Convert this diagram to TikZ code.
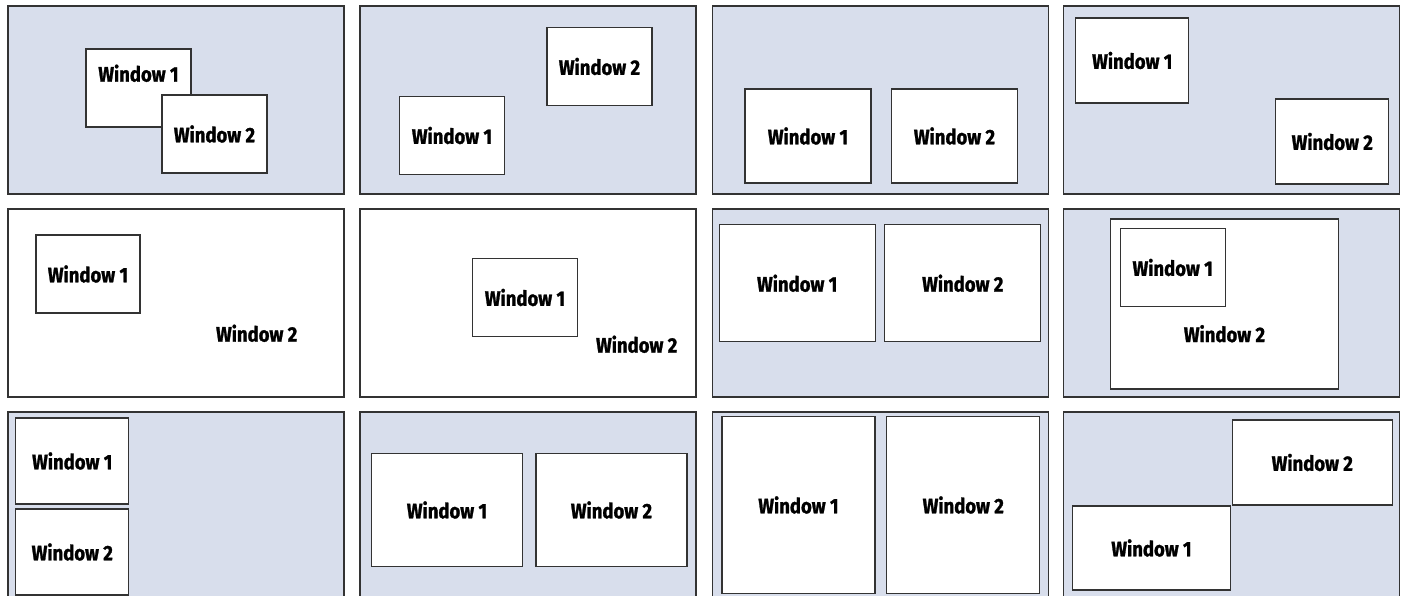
\documentclass[tikz,border=0pt]{standalone}
\usepackage{fontspec}
\setmainfont{Fira Sans}[FakeStretch=0.88, BoldFeatures={FakeBold=1.2}]
\usepackage{xcolor}
\usepackage{tikz}
\usetikzlibrary{positioning}

\definecolor{deskblue}{RGB}{216,222,236}

\begin{document}
\begin{tikzpicture}[x=1pt,y=-1pt,
    panel/.style={draw=black!80, line width=1.2pt, fill=deskblue, minimum width=336pt, minimum height=188pt, inner sep=0pt},
    screen/.style={panel, fill=white},
    win/.style={draw=black!80, line width=1.2pt, fill=white, inner sep=0pt, font=\bfseries\fontsize{21}{21}\selectfont},
    lbl/.style={inner sep=0pt, font=\bfseries\fontsize{21}{21}\selectfont}]
        \clip (0,0) rectangle (1403,596);

        % row 1
        \node[panel] (p1) at (176,100) {};
        \node[win, minimum width=105pt, minimum height=78pt] (p1w1) at (138.5,88) {};
        \node[lbl, below=16pt of p1w1.north] (p1l1) {Window 1};
        \node[win, minimum width=105pt, minimum height=78pt] (p1w2) at (214.5,134) {Window 2};

        \node[panel] (p2) at (528,100) {};
        \node[win, minimum width=105pt, minimum height=78pt] (p2w1) at (452,135.5) {Window 1};
        \node[win, minimum width=105pt, minimum height=78pt] (p2w2) at (599.5,66.5) {Window 2};

        \node[panel] (p3) at (880.5,100) {};
        \node[win, minimum width=126pt, minimum height=94pt] (p3w1) at (808,136) {Window 1};
        \node[win, minimum width=126pt, minimum height=94pt] (p3w2) at (954.5,136) {Window 2};

        \node[panel] (p4) at (1231.5,100) {};
        \node[win, minimum width=113pt, minimum height=85pt] (p4w1) at (1132.3,60.5) {Window 1};
        \node[win, minimum width=113pt, minimum height=85pt] (p4w2) at (1332.3,141.5) {Window 2};

        % row 2
        \node[screen] (p5) at (176,303) {};
        \node[win, minimum width=104pt, minimum height=78pt] (p5w1) at (88,274) {Window 1};
        \node[lbl] (p5l2) at (256.7,333.3) {Window 2};

        \node[screen] (p6) at (528,303) {};
        \node[win, minimum width=105pt, minimum height=78pt] (p6w1) at (525,297.5) {Window 1};
        \node[lbl] (p6l2) at (636.7,344.3) {Window 2};

        \node[panel] (p7) at (880.5,303) {};
        \node[win, minimum width=156pt, minimum height=117pt] (p7w1) at (797.2,283.3) {Window 1};
        \node[win, minimum width=156pt, minimum height=117pt] (p7w2) at (962.8,283.3) {Window 2};

        \node[panel] (p8) at (1231.5,303) {};
        \node[win, minimum width=228pt, minimum height=170pt] (p8w2) at (1224.5,304) {};
        \node[lbl, above=47pt of p8w2.south] (p8l2) {Window 2};
        \node[win, minimum width=105pt, minimum height=78pt] (p8w1) at (1172.7,267.5) {Window 1};

        % row 3
        \node[panel] (p9) at (176,506) {};
        \node[win, minimum width=113pt, minimum height=86pt] (p9w1) at (72.3,461) {Window 1};
        \node[win, minimum width=113pt, minimum height=86pt] (p9w2) at (72.3,552) {Window 2};

        \node[panel] (p10) at (528,506) {};
        \node[win, minimum width=151pt, minimum height=113pt] (p10w1) at (447,510) {Window 1};
        \node[win, minimum width=151pt, minimum height=113pt] (p10w2) at (611.5,510) {Window 2};

        \node[panel] (p11) at (880.5,506) {};
        \node[win, minimum width=153pt, minimum height=177pt] (p11w1) at (798.5,505) {Window 1};
        \node[win, minimum width=153pt, minimum height=177pt] (p11w2) at (963.3,505) {Window 2};

        \node[panel] (p12) at (1231.5,506) {};
        \node[win, minimum width=160pt, minimum height=85pt] (p12w2) at (1312.3,462.5) {Window 2};
        \node[win, minimum width=158pt, minimum height=84pt] (p12w1) at (1151.5,548) {Window 1};
\end{tikzpicture}
\end{document}
